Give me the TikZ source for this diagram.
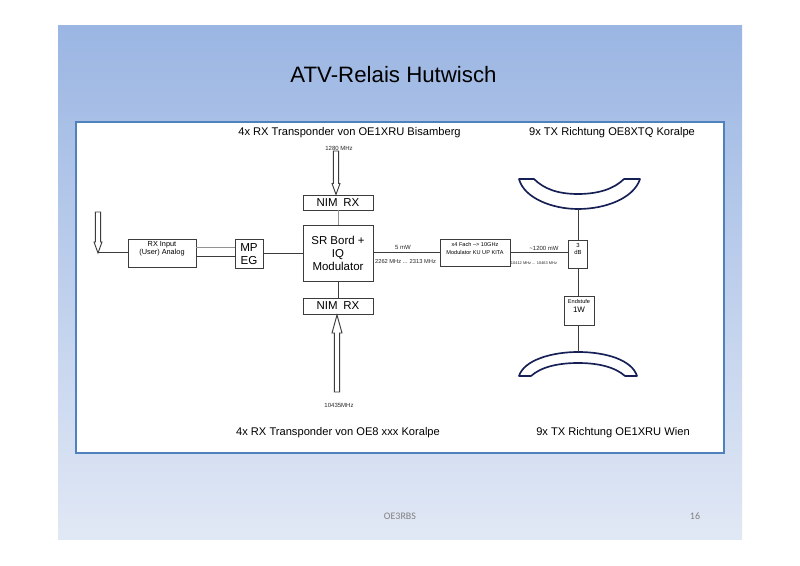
\documentclass[tikz,border=0pt]{standalone}
\usepackage{fontspec}
\setmainfont{Liberation Sans}
\newfontfamily\footfont{Carlito}
\usetikzlibrary{calc}
\newcommand{\fs}[1]{\fontsize{#1}{#1}\selectfont}
\definecolor{slidetop}{RGB}{155,182,227}
\definecolor{slidebot}{RGB}{225,232,245}
\definecolor{framecol}{RGB}{79,129,189}
\definecolor{linecol}{RGB}{60,60,60}
\definecolor{dishcol}{RGB}{22,32,85}
\tikzset{
  x=0.75pt,y=-0.75pt,
  blockbox/.style={draw=linecol,line width=0.7pt,fill=white,inner sep=0pt,align=center,text=black},
  wire/.style={draw=linecol,line width=0.75pt},
  greywire/.style={draw=gray!85,line width=0.75pt},
  hollow/.style={draw=linecol,line width=0.7pt,fill=white,line join=miter},
  dish/.style={draw=dishcol,line width=1.25pt,fill=white,line join=round},
  heading/.style={inner sep=0pt,text=black,font=\fs{8.35}},
  tiny/.style={inner sep=0pt,text=black!85,font=\fs{4.5}},
  foot/.style={inner sep=0pt,text=black!50,font=\footfont\fs{7.5}},
}
% from, tip, signed head length (px, + = points down), head half width (px)
\newcommand{\vhollow}[4]{%
  \draw[hollow] let \p1=(#1),\p2=(#2) in
    (\x1-2.6*0.75pt,\y1) -- (\x1-2.6*0.75pt,\y2+#3*0.75pt) -- (\x1-#4*0.75pt,\y2+#3*0.75pt)
    -- (\x2,\y2) -- (\x1+#4*0.75pt,\y2+#3*0.75pt) -- (\x1+2.6*0.75pt,\y2+#3*0.75pt)
    -- (\x1+2.6*0.75pt,\y1) -- cycle;
}
\begin{document}
\begin{tikzpicture}
\useasboundingbox (0,0) rectangle (800,566);
\fill[white] (0,0) rectangle (800,566);
\shade[top color=slidetop,bottom color=slidebot] (58,26) rectangle (742,539);
\draw[framecol,line width=1.5pt,fill=white] (76,122) rectangle (724,453);

\node[inner sep=0pt,text=black,font=\fs{16.7}] (title) at (393.5,75) {ATV-Relais Hutwisch};
\node[heading] (h1) at (349.5,132.5) {4x RX Transponder von OE1XRU Bisamberg};
\node[heading] (h2) at (612,132.5) {9x TX Richtung OE8XTQ Koralpe};
\node[heading] (h3) at (338,432.5) {4x RX Transponder von OE8 xxx Koralpe};
\node[heading] (h4) at (613,432.5) {9x TX Richtung OE1XRU Wien};

% blocks
\node[blockbox,font=\fs{8.6},minimum width=52.5pt,minimum height=11.25pt] (nimtop) at (338,202.5) {NIM\,\,\,RX};
\node[blockbox,font=\fontsize{8.6}{9.75}\selectfont,minimum width=52.5pt,minimum height=42pt] (sr) at (338,253) {SR Bord +\\IQ\\Modulator};
\node[blockbox,font=\fs{8.6},minimum width=52.5pt,minimum height=12pt] (nimbot) at (338,306) {NIM\,\,\,RX};
\node[blockbox,minimum width=51pt,minimum height=21pt] (rxin) at (162,253) {};
\node[inner sep=0pt,font=\fs{5.5}] (rxt1) at (162,245) {RX Input};
\node[inner sep=0pt,font=\fs{5.5}] (rxt2) at (162,253) {(User) Analog};
\node[blockbox,font=\fontsize{8.7}{9.75}\selectfont,minimum width=21pt,minimum height=21.75pt] (mpeg) at (249,254) {MP\\EG};
\node[blockbox,minimum width=52.5pt,minimum height=20.25pt] (mod) at (475,252.5) {};
\node[inner sep=0pt,font=\fs{4.2}] (modt1) at (475,244.5) {x4 Fach --> 10GHz};
\node[inner sep=0pt,font=\fs{4.2}] (modt2) at (475,252.5) {Modulator KU UP KITA};
\node[blockbox,minimum width=14.25pt,minimum height=21pt] (db) at (577.5,254) {};
\node[inner sep=0pt,font=\fs{4.4}] (dbt1) at (578,245) {3};
\node[inner sep=0pt,font=\fs{4.4}] (dbt2) at (578,252.5) {dB};
\node[blockbox,minimum width=22.5pt,minimum height=21.75pt] (end) at (579,310.5) {};
\node[inner sep=0pt,font=\fs{4.2}] (endt1) at (579,301.5) {Endstufe};
\node[inner sep=0pt,font=\fs{6}] (endt2) at (579,309.5) {1W};

% dishes
\draw[dish] (519,179) .. controls (524,198) and (552,209) .. (578,209) .. controls (606,209) and (634,198) .. (640,179)
  -- (624,179) .. controls (614,189) and (598,194) .. (578,194) .. controls (558,194) and (544,189) .. (534,179) -- cycle;
\draw[dish] (519,376) .. controls (524,360) and (552,352) .. (578,352) .. controls (606,352) and (632,360) .. (637,376)
  -- (625,376) .. controls (615,367) and (598,363) .. (578,363) .. controls (558,363) and (541,367) .. (531,376) -- cycle;
\coordinate (dishtop) at (578,209);
\coordinate (dishbot) at (578,352);

% free arrows
\coordinate (a1s) at (336,151); \coordinate (a1t) at (336,194.5);
\coordinate (a2s) at (337,392); \coordinate (a2t) at (337,315);
\coordinate (a3s) at (98,212);  \coordinate (a3t) at (98,253);
\vhollow{a1s}{a1t}{11}{4}
\vhollow{a2s}{a2t}{-18}{5}
\vhollow{a3s}{a3t}{11}{4}

% connectors
\draw[greywire] (nimtop.south) -- (sr.north);
\draw[wire] (sr.south) -- (nimbot.north);
\draw[wire] (a3t) -- (rxin.west);
\draw[greywire] ($(rxin.east)+(0,-5)$) -- ($(mpeg.west)+(0,-6)$);
\draw[wire] ($(rxin.east)+(0,4)$) -- ($(mpeg.west)+(0,3)$);
\draw[wire] (mpeg.east) -- (mpeg.east -| sr.west);
\draw[wire] (sr.east) -- (sr.east -| mod.west);
\draw[wire] (mod.east) -- (mod.east -| db.west);
\draw[wire] (db.north -| dishtop) -- (dishtop);
\draw[wire] (db.south -| dishtop) -- (end.north -| dishtop);
\draw[wire] (end.south -| dishbot) -- (dishbot);

% small labels
\node[tiny] (l1) at (339,148) {1280 MHz};
\node[tiny] (l2) at (339,405) {10435MHz};
\node[tiny] (l3) at (403,247) {5 mW};
\node[tiny,font=\fs{4.3}] (l4) at (405.5,262) {2262 MHz ... 2313 MHz};
\node[tiny] (l5) at (544,248) {\textasciitilde1200 mW};
\node[tiny,font=\fs{2.95}] (l6) at (534,263) {10412 MHz ... 10463 MHz};

% footer
\node[foot] (f1) at (400,516) {OE3RBS};
\node[foot] (f2) at (695,516) {16};
\end{tikzpicture}
\end{document}
